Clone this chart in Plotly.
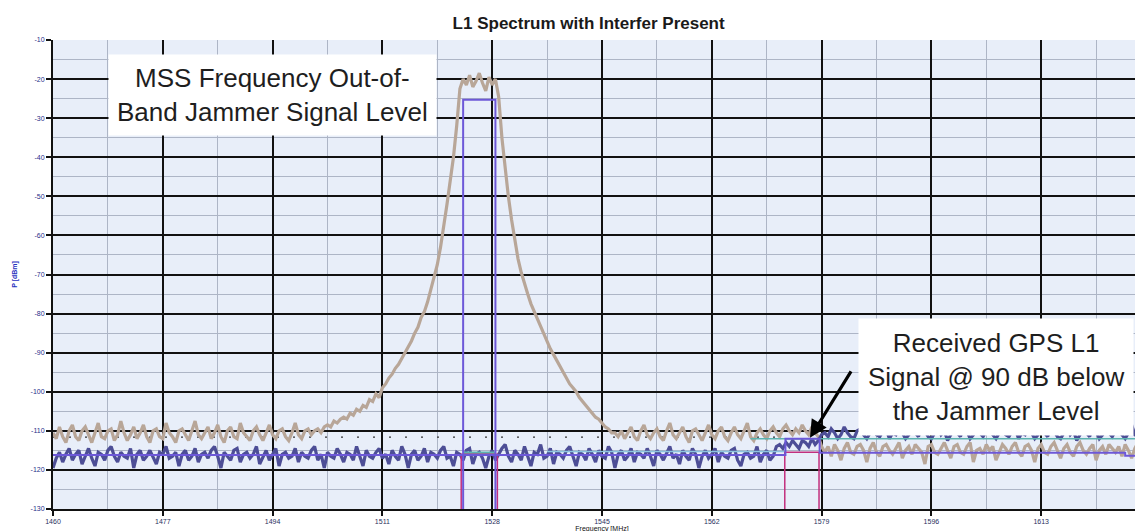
import plotly.graph_objects as go

# ---------------- data ----------------
freq_start = 1460.0
freq_step = 0.5  # MHz between samples of the spectrum traces

# received spectrum with the MSS jammer (tan), dBm, 1460 .. 1630 MHz
jammer_spectrum = [
    -110.5,-112.0,-109.0,-111.5,-113.0,-110.0,-108.5,-111.5,-112.5,-110.0,
    -109.0,-111.0,-113.0,-110.5,-108.0,-111.5,-112.0,-110.0,-109.5,-112.5,
    -111.0,-107.5,-110.5,-112.5,-111.0,-109.0,-112.0,-110.5,-108.5,-111.5,
    -113.0,-110.0,-109.5,-111.5,-112.0,-108.0,-110.5,-111.5,-113.0,-110.0,
    -109.5,-111.0,-112.5,-110.0,-107.5,-111.0,-112.0,-110.5,-109.0,-112.0,
    -110.5,-108.5,-111.5,-113.0,-110.0,-109.0,-111.5,-112.0,-108.0,-110.5,
    -111.5,-112.5,-110.0,-109.0,-111.0,-112.5,-110.5,-108.5,-111.0,-112.0,
    -110.0,-109.5,-111.5,-112.5,-110.5,-108.0,-111.0,-112.0,-110.0,-109.5,
    -111.0,-110.0,-109.5,-110.5,-109.0,-108.5,-109.0,-107.5,-108.0,-107.0,
    -106.5,-107.0,-105.5,-106.0,-104.5,-105.0,-103.5,-104.0,-102.0,-102.5,
    -100.5,-101.5,-99.0,-98.0,-96.5,-95.5,-94.0,-93.0,-91.5,-90.0,
    -88.5,-87.0,-85.0,-83.5,-81.0,-79.5,-77.0,-74.0,-71.0,-67.5,
    -63.0,-58.0,-52.0,-46.0,-40.0,-32.0,-22.5,-20.0,-21.5,-19.0,
    -22.0,-20.5,-18.5,-21.0,-23.0,-19.5,-21.5,-20.0,-24.5,-35.0,
    -43.0,-50.0,-56.0,-61.0,-66.0,-69.5,-72.5,-75.0,-77.5,-79.5,
    -81.5,-83.0,-85.0,-87.0,-89.0,-90.5,-92.0,-93.5,-95.0,-96.5,
    -98.0,-99.0,-100.0,-101.5,-102.5,-103.5,-104.5,-105.5,-106.5,-107.0,
    -108.0,-109.0,-109.5,-110.5,-110.5,-111.5,-110.0,-112.0,-110.5,-109.0,
    -111.5,-112.5,-110.0,-108.5,-111.0,-112.0,-110.5,-109.5,-111.5,-112.5,
    -110.0,-108.0,-111.0,-112.0,-110.5,-109.0,-111.5,-113.0,-110.0,-109.5,
    -111.0,-112.5,-110.5,-108.5,-111.0,-112.0,-110.0,-109.0,-111.5,-112.5,
    -110.5,-109.0,-111.0,-112.0,-110.0,-108.0,-111.5,-112.5,-110.5,-109.5,
    -111.0,-112.0,-110.0,-109.0,-110.5,-111.5,-109.5,-108.5,-110.0,-111.0,
    -109.5,-110.5,-108.5,-110.0,-111.0,-109.0,-110.5,-111.5,-114.0,-115.5,
    -114.0,-116.5,-113.5,-115.0,-117.5,-114.5,-113.0,-115.5,-116.0,-114.0,
    -113.5,-115.0,-118.0,-114.5,-113.0,-115.5,-116.5,-114.0,-113.5,-115.0,
    -116.0,-114.5,-113.0,-117.0,-115.0,-114.0,-116.0,-113.5,-114.5,-115.5,
    -118.5,-114.0,-113.5,-115.5,-116.0,-114.5,-113.0,-115.0,-117.0,-114.0,
    -113.5,-115.5,-116.0,-114.0,-113.0,-118.0,-115.0,-114.5,-116.0,-113.5,
    -115.0,-114.0,-117.5,-115.5,-113.5,-114.5,-116.0,-114.0,-113.0,-115.5,
    -116.5,-114.0,-113.5,-115.0,-118.0,-114.5,-113.5,-115.5,-116.0,-114.0,
    -113.0,-115.0,-117.0,-114.5,-113.5,-115.5,-116.5,-114.0,-113.0,-115.0,
    -116.0,-114.5,-113.5,-117.5,-115.0,-114.0,-116.0,-113.5,-114.5,-115.5,
    -114.0,-116.5,-113.5,-115.0,-117.0,-114.5,-113.0,-115.5,-116.0,-114.0,
    -114.5,
]

# GPS receiver spectrum (dark blue), dBm, 1460 .. 1630 MHz
gps_spectrum = [
    -119.5,-117.0,-115.5,-118.0,-116.0,-114.5,-117.5,-116.0,-115.0,-118.5,
    -116.5,-114.5,-117.0,-119.0,-115.5,-116.0,-117.5,-115.0,-114.0,-116.5,
    -118.0,-115.5,-116.5,-117.0,-114.5,-119.5,-116.0,-115.0,-117.5,-116.5,
    -115.0,-117.0,-118.5,-115.5,-116.0,-114.0,-117.0,-116.5,-115.5,-119.0,
    -116.0,-115.0,-117.5,-116.5,-114.5,-118.0,-116.0,-115.5,-117.0,-115.0,
    -114.0,-116.5,-119.5,-115.5,-116.5,-117.5,-115.0,-114.5,-118.0,-116.0,
    -115.5,-117.0,-116.0,-114.0,-118.5,-116.5,-115.0,-117.5,-116.0,-114.5,
    -119.0,-116.0,-115.5,-117.0,-116.5,-114.5,-118.0,-115.5,-116.5,-117.0,
    -115.0,-114.0,-117.5,-116.0,-119.5,-115.5,-116.5,-117.0,-114.5,-116.0,
    -118.0,-115.5,-116.0,-117.5,-114.0,-116.5,-119.0,-115.0,-116.5,-117.0,
    -115.5,-114.5,-117.0,-116.0,-118.5,-115.0,-116.5,-117.5,-114.0,-116.0,
    -119.5,-116.0,-115.0,-117.5,-116.5,-114.5,-118.0,-115.5,-116.0,-117.0,
    -115.0,-114.0,-117.0,-116.5,-119.0,-115.5,-116.0,-117.5,-115.0,-114.5,
    -118.5,-116.0,-115.5,-117.0,-119.5,-116.5,-115.0,-117.5,-116.0,-114.5,
    -113.5,-116.5,-118.0,-115.0,-116.0,-117.5,-114.0,-116.5,-119.0,-115.5,
    -116.0,-113.5,-117.0,-116.5,-114.5,-118.5,-115.5,-116.0,-117.0,-115.0,
    -114.0,-116.5,-119.0,-115.5,-116.0,-117.5,-114.5,-116.0,-118.0,-115.0,
    -116.5,-117.0,-114.0,-115.5,-119.5,-116.0,-115.0,-117.5,-116.5,-114.5,
    -118.0,-115.5,-116.0,-117.0,-114.5,-116.5,-119.0,-115.0,-116.0,-117.5,
    -115.5,-114.0,-117.0,-116.0,-118.5,-115.0,-116.5,-117.5,-114.5,-116.0,
    -119.5,-116.5,-115.0,-117.0,-116.0,-114.5,-118.0,-115.5,-116.5,-117.0,
    -115.0,-114.5,-117.5,-119.0,-116.0,-115.5,-117.0,-116.5,-114.0,-118.0,
    -116.0,-115.0,-117.5,-116.5,-114.0,-113.5,-114.5,-113.0,-114.0,-112.5,
    -113.5,-114.5,-112.5,-113.0,-114.0,-112.0,-113.5,-112.5,-111.0,-110.5,
    -111.5,-109.5,-110.5,-112.0,-111.0,-109.0,-110.5,-111.5,-112.0,-110.0,
    -109.5,-111.0,-112.0,-110.5,-108.5,-111.0,-111.5,-110.0,-109.5,-112.0,
    -110.5,-111.0,-109.0,-110.5,-112.0,-111.0,-109.5,-110.5,-111.5,-108.5,
    -110.0,-111.5,-112.0,-110.5,-109.0,-111.0,-110.0,-112.5,-111.0,-109.5,
    -110.5,-111.5,-108.5,-110.0,-112.0,-111.0,-109.5,-110.5,-111.5,-110.0,
    -109.0,-111.0,-112.0,-110.5,-108.0,-111.0,-111.5,-110.0,-109.5,-112.0,
    -110.5,-111.0,-109.0,-110.5,-112.0,-111.0,-109.5,-110.5,-111.5,-108.5,
    -110.0,-111.5,-112.0,-110.5,-109.0,-111.0,-110.0,-112.5,-111.0,-109.5,
    -110.5,-111.5,-108.5,-110.0,-112.0,-111.0,-109.5,-110.5,-111.5,-110.0,
    -109.0,-111.0,-112.0,-110.5,-108.5,-111.0,-111.5,-110.0,-109.5,-112.0,
    -110.5,
]

freqs = [freq_start + freq_step * i for i in range(len(jammer_spectrum))]

# jammer mask (purple rectangle)
jam_mask_x = [1523.5, 1523.5, 1528.5, 1528.5]
jam_mask_y = [-130.0, -25.3, -25.3, -130.0]

# GPS signal level (purple step line)
gps_level_x = [1460.0, 1573.4, 1573.4, 1578.7, 1578.7, 1626.0, 1626.0, 1630.0]
gps_level_y = [-116.2, -116.2, -112.0, -112.0, -115.6, -115.6, -116.4, -116.4]

# filter band edges (magenta)
jam_band_x = [1523.2, 1523.2, 1528.8, 1528.8]
jam_band_y = [-130.0, -116.0, -116.0, -130.0]
gps_band_x = [1573.3, 1573.3, 1578.6, 1578.6]
gps_band_y = [-130.0, -115.5, -115.5, -130.0]

# teal reference levels
teal_jam_x = [1523.5, 1528.5]
teal_jam_y = [-115.6, -115.6]
teal_mid_x = [1536.5, 1573.3]
teal_mid_y = [-115.3, -115.3]
teal_right_x = [1568.0, 1630.0]
teal_right_y = [-112.0, -112.0]

# dotted mean level under the tan noise
mean_x = [1460.0, 1573.0]
mean_y = [-111.6, -111.6]

x_ticks = [1460, 1477, 1494, 1511, 1528, 1545, 1562, 1579, 1596, 1613, 1630]
y_ticks = [-10, -20, -30, -40, -50, -60, -70, -80, -90, -100, -110, -120, -130]

# ---------------- figure ----------------
TAN = "#b8a698"
DBLUE = "#4d4e96"
PURPLE = "#6d58d8"
MAGENTA = "#c2307e"
TEAL = "#5cb3b0"
TEAL_LIGHT = "#8cc4e0"

fig = go.Figure()

fig.add_trace(go.Scatter(x=mean_x, y=mean_y, mode="lines",
                         line=dict(color="#333333", width=1.2, dash="2px,14px"),
                         hoverinfo="skip", showlegend=False))
fig.add_trace(go.Scatter(x=freqs, y=jammer_spectrum, mode="lines",
                         line=dict(color=TAN, width=3.2), showlegend=False))
fig.add_trace(go.Scatter(x=freqs, y=gps_spectrum, mode="lines",
                         line=dict(color=DBLUE, width=3.2), showlegend=False))
fig.add_trace(go.Scatter(x=teal_mid_x, y=teal_mid_y, mode="lines",
                         line=dict(color=TEAL_LIGHT, width=1.5), showlegend=False))
fig.add_trace(go.Scatter(x=teal_right_x, y=teal_right_y, mode="lines",
                         line=dict(color=TEAL, width=1.5), showlegend=False))
fig.add_trace(go.Scatter(x=teal_jam_x, y=teal_jam_y, mode="lines",
                         line=dict(color=TEAL, width=2.5), showlegend=False))
fig.add_trace(go.Scatter(x=jam_band_x, y=jam_band_y, mode="lines",
                         line=dict(color=MAGENTA, width=1.5), showlegend=False))
fig.add_trace(go.Scatter(x=gps_band_x, y=gps_band_y, mode="lines",
                         line=dict(color=MAGENTA, width=1.5), showlegend=False))
fig.add_trace(go.Scatter(x=gps_level_x, y=gps_level_y, mode="lines",
                         line=dict(color=PURPLE, width=2), showlegend=False))
fig.add_trace(go.Scatter(x=jam_mask_x, y=jam_mask_y, mode="lines",
                         line=dict(color=PURPLE, width=2), showlegend=False))

ANN_FONT = dict(family="Liberation Sans, Arial, sans-serif", size=26, color="#1e1e1e")

fig.add_annotation(x=1494.0, y=-24.0, xref="x", yref="y",
                   text="MSS Frequency Out-of-<br>Band Jammer Signal Level",
                   showarrow=False, font=ANN_FONT, align="center",
                   bgcolor="white", borderpad=8)
fig.add_annotation(x=1606.0, y=-96.2, xref="x", yref="y",
                   text="Received GPS L1<br>Signal @ 90 dB below<br>the Jammer Level",
                   showarrow=False, font=ANN_FONT, align="center",
                   bgcolor="white", borderpad=9)
fig.add_annotation(x=1577.2, y=-111.8, xref="x", yref="y", text="",
                   showarrow=True, arrowhead=2, arrowsize=1.1, arrowwidth=3.2,
                   arrowcolor="black", ax=42, ay=-68, axref="pixel", ayref="pixel")

fig.update_layout(
    width=1143, height=531,
    margin=dict(l=45, r=0, t=32, b=30, autoexpand=False),
    paper_bgcolor="white",
    plot_bgcolor="#e8eef9",
    title=dict(text="<b>L1 Spectrum with Interfer Present</b>",
               x=0.508, xanchor="center", y=1 - 15 / 531, yanchor="middle",
               font=dict(family="Liberation Sans, Arial, sans-serif", size=17, color="#1a1a1a")),
    showlegend=False,
)

fig.update_xaxes(
    range=[1460, 1630], tickmode="array", tickvals=x_ticks,
    ticktext=[str(v) for v in x_ticks],
    showgrid=True, gridcolor="#111111", gridwidth=2,
    minor=dict(dtick=8.5, tick0=1460, showgrid=True, gridcolor="#adb5c6", gridwidth=1),
    showline=True, linecolor="#111111", linewidth=2,
    ticks="outside", ticklen=5, tickwidth=2, tickcolor="#111111",
    tickfont=dict(family="Liberation Sans, Arial, sans-serif", size=7, color="#2a3060"),
    title=dict(text="Frequency [MHz]", standoff=2,
               font=dict(family="Liberation Sans, Arial, sans-serif", size=7, color="#111111")),
    zeroline=False, automargin=False,
)
fig.update_yaxes(
    range=[-130, -10], tickmode="array", tickvals=y_ticks,
    ticktext=[str(v) for v in y_ticks],
    showgrid=True, gridcolor="#111111", gridwidth=2,
    minor=dict(dtick=5, tick0=-130, showgrid=True, gridcolor="#adb5c6", gridwidth=1),
    showline=True, linecolor="#111111", linewidth=2,
    ticks="outside", ticklen=5, tickwidth=2, tickcolor="#111111",
    tickfont=dict(family="Liberation Sans, Arial, sans-serif", size=7, color="#1f2f8a"),
    title=dict(text="<b>P [dBm]</b>", standoff=12,
               font=dict(family="Liberation Sans, Arial, sans-serif", size=7, color="#1f2fc0")),
    zeroline=False, automargin=False,
)

fig.write_html("out.html")
